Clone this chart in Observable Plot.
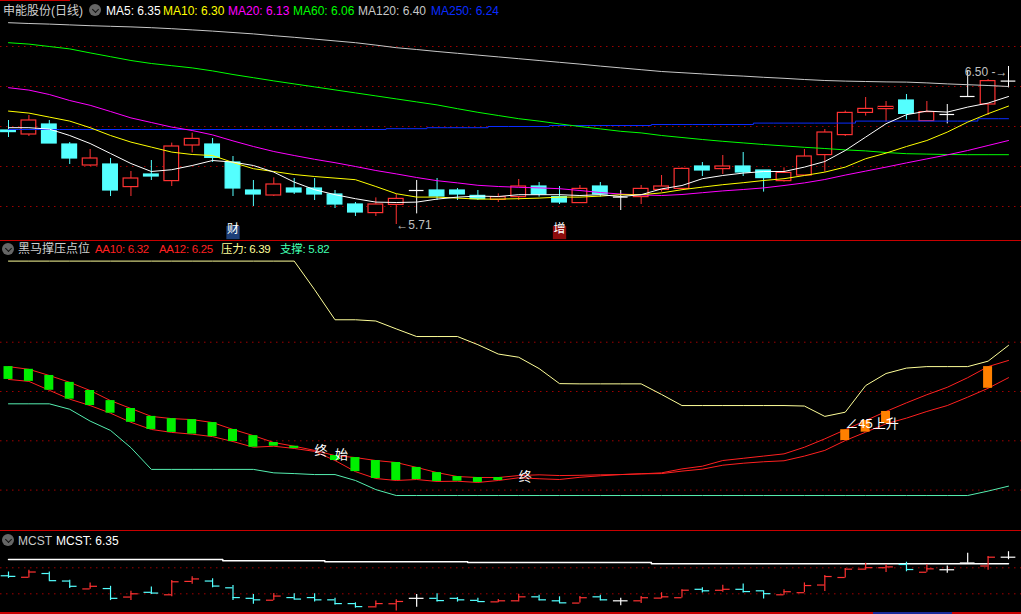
<!DOCTYPE html>
<html><head><meta charset="utf-8">
<script src="https://cdn.jsdelivr.net/npm/d3@7"></script>
<script src="https://cdn.jsdelivr.net/npm/@observablehq/plot@0.6"></script>
<style>
html,body{margin:0;padding:0;background:#000;}
#wrap{position:relative;width:1021px;height:614px;overflow:hidden;background:#000;font-family:"Liberation Sans","Noto Sans CJK SC",sans-serif;font-size:12px;}
.panel{position:absolute;left:0;}
.t{position:absolute;white-space:nowrap;font-size:12px;line-height:14px;}
.n{font-size:11.5px;letter-spacing:-0.3px;}
.icon{position:absolute;width:12px;height:12px;border-radius:50%;background:#666;}
.icon::after{content:"";position:absolute;left:3.5px;top:2.5px;width:4px;height:4px;border-right:1.6px solid #111;border-bottom:1.6px solid #111;transform:rotate(45deg);}
.sep{position:absolute;left:0;height:1px;background:#c80000;}
</style></head>
<body><div id="wrap">
<div id="p1" class="panel" style="top:0"></div>
<div id="p2" class="panel" style="top:240px"></div>
<div id="p3" class="panel" style="top:530px"></div>
<div class="sep" style="top:0;width:70px"></div>
<div class="sep" style="top:240px;width:1021px"></div>
<div class="sep" style="top:530px;width:1021px"></div>
<div class="sep" style="top:612px;width:1021px;height:2px"></div>
<div class="sep" style="top:612px;left:873px;width:79px;height:2px;background:#1a2a9a"></div>

<div class="t" style="top:4px;left:3px;color:#d0d0d0">申能股份(日线)</div>
<div class="icon" style="top:4px;left:89px"></div>
<div class="t" style="top:4px;left:106px;color:#ffffff">MA5: 6.35</div>
<div class="t" style="top:4px;left:163px;color:#ffff00">MA10: 6.30</div>
<div class="t" style="top:4px;left:228px;color:#ff00ff">MA20: 6.13</div>
<div class="t" style="top:4px;left:293px;color:#00ff00">MA60: 6.06</div>
<div class="t" style="top:4px;left:358px;color:#c8c8c8">MA120: 6.40</div>
<div class="t" style="top:4px;left:431px;color:#0a2cff">MA250: 6.24</div>

<div class="icon" style="top:243px;left:2px"></div>
<div class="t" style="top:242px;left:18px;color:#d0d0d0">黑马撑压点位</div>
<div class="t n" style="top:242px;left:95px;color:#ff2020">AA10: 6.32</div>
<div class="t n" style="top:242px;left:159px;color:#ff2020">AA12: 6.25</div>
<div class="t n" style="top:242px;left:221px;color:#ffff99">压力: 6.39</div>
<div class="t n" style="top:242px;left:280px;color:#40ffb0">支撑: 5.82</div>

<div class="icon" style="top:534px;left:2px"></div>
<div class="t" style="top:534px;left:18px;color:#c8c8c8">MCST</div>
<div class="t" style="top:534px;left:56px;color:#ffffff">MCST: 6.35</div>
</div>
<script>
// ---------- data ----------
const open  = [6.18,6.16,6.21,6.11,6.005,6.01,5.897,5.96,5.927,6.105,6.11,6.02,5.88,5.855,5.89,5.89,5.86,5.81,5.767,5.808,5.88,5.88,5.88,5.853,5.833,5.847,5.90,5.847,5.817,5.90,5.847,5.847,5.883,5.888,6.00,5.987,6.00,5.98,5.927,5.955,6.057,6.157,6.268,6.287,6.33,6.227,6.26,6.35,6.31,6.427];
const high  = [6.23,6.255,6.23,6.12,6.085,6.04,5.975,6.03,6.117,6.167,6.14,6.05,5.93,5.943,5.94,5.94,5.88,5.82,5.843,5.86,5.93,5.94,5.89,5.88,5.863,5.935,5.92,5.90,5.905,5.92,5.88,5.905,5.955,5.993,6.02,6.055,6.07,5.98,5.993,6.085,6.185,6.277,6.345,6.325,6.36,6.325,6.31,6.48,6.435,6.50];
const low   = [6.145,6.15,6.115,6.01,6.00,5.85,5.85,5.93,5.90,6.068,6.02,5.85,5.80,5.85,5.86,5.83,5.79,5.75,5.75,5.71,5.763,5.83,5.83,5.83,5.82,5.83,5.847,5.81,5.817,5.847,5.78,5.81,5.872,5.883,5.95,5.96,5.95,5.872,5.922,5.955,5.972,6.15,6.252,6.222,6.233,6.227,6.213,6.345,6.255,6.393];
const close = [6.172,6.23,6.115,6.04,6.04,5.88,5.94,5.95,6.10,6.138,6.043,5.89,5.86,5.91,5.87,5.86,5.81,5.77,5.81,5.838,5.88,5.85,5.86,5.837,5.847,5.90,5.86,5.82,5.888,5.86,5.847,5.888,5.90,5.988,5.98,6.00,5.97,5.942,5.968,6.05,6.17,6.268,6.288,6.298,6.263,6.272,6.26,6.35,6.427,6.427];

const ma5   = [6.194,6.194,6.187,6.155,6.115,6.065,6.015,5.975,5.984,6.005,6.03,6.022,6.005,5.972,5.922,5.884,5.859,5.839,5.822,5.82,5.822,5.837,5.847,5.852,5.85,5.859,5.859,5.859,5.855,5.859,5.85,5.859,5.888,5.905,5.939,5.955,5.967,5.975,5.975,5.997,6.025,6.08,6.147,6.214,6.259,6.277,6.272,6.297,6.317,6.35];
const ma10  = [6.277,6.267,6.247,6.227,6.194,6.155,6.122,6.097,6.072,6.06,6.055,6.02,5.989,5.975,5.96,5.95,5.942,5.934,5.90,5.864,5.847,5.847,5.842,5.837,5.837,5.839,5.842,5.847,5.847,5.852,5.859,5.859,5.868,5.884,5.897,5.909,5.919,5.93,5.939,5.955,5.972,5.997,6.039,6.067,6.10,6.13,6.172,6.222,6.264,6.302];
const ma20  = [6.394,6.382,6.36,6.33,6.306,6.275,6.243,6.22,6.197,6.18,6.158,6.128,6.10,6.075,6.055,6.036,6.019,6.00,5.98,5.963,5.945,5.929,5.918,5.906,5.90,5.896,5.893,5.889,5.88,5.87,5.862,5.858,5.855,5.86,5.869,5.878,5.885,5.893,5.905,5.918,5.935,5.957,5.977,5.997,6.018,6.038,6.058,6.08,6.105,6.13];
const ma60  = [6.619,6.612,6.60,6.588,6.568,6.549,6.53,6.515,6.504,6.493,6.478,6.46,6.444,6.428,6.413,6.398,6.383,6.368,6.353,6.338,6.323,6.308,6.289,6.271,6.255,6.239,6.227,6.213,6.20,6.188,6.176,6.168,6.155,6.145,6.135,6.126,6.118,6.11,6.103,6.096,6.09,6.083,6.078,6.07,6.064,6.062,6.06,6.059,6.059,6.059];
const ma120 = [6.719,6.715,6.712,6.708,6.704,6.701,6.698,6.694,6.689,6.683,6.677,6.67,6.663,6.654,6.646,6.637,6.628,6.619,6.607,6.594,6.585,6.575,6.566,6.557,6.548,6.539,6.53,6.521,6.512,6.502,6.493,6.484,6.475,6.469,6.463,6.457,6.452,6.446,6.441,6.435,6.43,6.427,6.425,6.423,6.422,6.418,6.413,6.409,6.405,6.40];
const ma250 = [6.185,6.185,6.185,6.185,6.185,6.185,6.185,6.185,6.185,6.185,6.185,6.185,6.185,6.185,6.185,6.185,6.185,6.185,6.185,6.189,6.189,6.194,6.194,6.194,6.20,6.20,6.20,6.205,6.205,6.205,6.205,6.205,6.21,6.21,6.21,6.21,6.21,6.217,6.217,6.217,6.217,6.217,6.227,6.227,6.227,6.227,6.227,6.227,6.239,6.239];

const aa10  = [6.249,6.241,6.205,6.169,6.143,6.112,6.075,6.046,6.034,6.027,6.017,5.997,5.974,5.978,5.969,5.957,5.920,5.875,5.847,5.839,5.843,5.835,5.836,5.831,5.839,5.850,5.846,5.843,5.852,5.858,5.863,5.866,5.870,5.886,5.897,5.920,5.929,5.938,5.947,5.974,6.008,6.045,6.082,6.119,6.154,6.187,6.217,6.256,6.301,6.326];
const aa12  = [6.301,6.290,6.265,6.237,6.204,6.163,6.131,6.099,6.090,6.086,6.074,6.046,6.021,5.993,5.978,5.961,5.940,5.932,5.920,5.912,5.892,5.871,5.855,5.851,5.851,5.859,5.862,5.859,5.860,5.862,5.863,5.866,5.867,5.877,5.885,5.901,5.909,5.915,5.919,5.938,5.961,6.001,6.035,6.069,6.092,6.119,6.143,6.177,6.213,6.256];
const pressure = [6.729,6.729,6.729,6.729,6.729,6.729,6.729,6.729,6.729,6.729,6.729,6.729,6.729,6.729,6.729,6.613,6.491,6.491,6.486,6.454,6.423,6.423,6.423,6.390,6.352,6.339,6.293,6.232,6.231,6.231,6.231,6.231,6.188,6.143,6.143,6.143,6.143,6.143,6.143,6.141,6.099,6.116,6.224,6.273,6.295,6.301,6.301,6.301,6.323,6.387];
const support  = [6.150,6.150,6.150,6.128,6.080,6.042,5.972,5.884,5.884,5.884,5.884,5.884,5.884,5.870,5.867,5.863,5.863,5.839,5.802,5.778,5.778,5.778,5.778,5.778,5.778,5.778,5.778,5.778,5.778,5.778,5.778,5.778,5.778,5.778,5.778,5.778,5.778,5.778,5.778,5.778,5.778,5.778,5.778,5.778,5.778,5.778,5.778,5.778,5.796,5.816];
const greenBars  = [0,1,2,3,4,5,6,7,8,9,10,11,12,13,14,16,17,18,19,20,21,22,23,24];
const orangeBars = [41,42,43,48];
const signalText = ["终","始","终","∠45上升"];
const signalIdx  = [15,16,25,41];
const signalVal  = [5.961,5.944,5.853,6.07];

const mcst = [6.395,6.395,6.395,6.395,6.395,6.395,6.395,6.395,6.395,6.395,6.395,6.381,6.381,6.381,6.381,6.381,6.368,6.368,6.368,6.368,6.368,6.368,6.368,6.355,6.355,6.355,6.355,6.355,6.355,6.355,6.355,6.355,6.34,6.34,6.34,6.34,6.34,6.34,6.34,6.34,6.34,6.34,6.34,6.34,6.34,6.34,6.34,6.34,6.34,6.34];

const eventIdx = [11, 27];
const eventText = ["财", "增"];
const eventFill = ["#1d3f78", "#8c0c0c"];

const topGrid = [6.6, 6.4, 6.2, 6.0, 5.8];
const midGrid = [6.4, 6.2, 6.0, 5.8];
const botGrid = [6.286, 5.94];

// ---------- helpers ----------
const idx = open.map((_, i) => i);
const RED = "#ff3232", CYAN = "#54ffff", WHITE = "#ffffff";
const col = i => close[i] > open[i] ? RED : close[i] < open[i] ? CYAN : WHITE;
const X = {type: "linear", domain: [-0.392, 49.637], range: [0, 1021], axis: null};
const font = "Liberation Sans, Noto Sans CJK SC, sans-serif";
const gridMark = g => Plot.ruleY(g, {stroke: "#a00000", strokeDasharray: "1.5,4.5", strokeWidth: 1});
const base = {width: 1021, margin: 0, x: X, color: {type: "identity"},
  style: {background: "transparent", overflow: "visible"}};
const maLine = (arr, color, curve = "linear") =>
  Plot.line(idx, {x: i => i, y: i => arr[i], stroke: color, strokeWidth: 1, curve});

// ---------- top panel ----------
const bodies = idx.filter(i => close[i] !== open[i]);
const dojis = idx.filter(i => close[i] === open[i]);
const p1 = Plot.plot({...base, height: 240,
  y: {domain: [5.63, 6.83], range: [240, 0], axis: null},
  marks: [
    gridMark(topGrid),
    Plot.ruleX(idx, {x: i => i, y1: i => low[i], y2: i => high[i], stroke: col, strokeWidth: 1}),
    Plot.rect(bodies, {x1: i => i - 0.36, x2: i => i + 0.36, y1: i => open[i], y2: i => close[i],
      fill: i => close[i] > open[i] ? "#000" : CYAN, stroke: col, strokeWidth: 1.2}),
    Plot.ruleY(dojis, {x1: i => i - 0.36, x2: i => i + 0.36, y: i => close[i], stroke: WHITE, strokeWidth: 1.2}),
    maLine(ma250, "#0a2cff", "step"),
    maLine(ma120, "#c8c8c8"),
    maLine(ma60, "#00ff00"),
    maLine(ma20, "#ff00ff"),
    maLine(ma10, "#ffff00"),
    maLine(ma5, "#ffffff"),
    Plot.text([19], {x: i => i, y: i => low[i], text: i => "←" + low[i].toFixed(2), textAnchor: "start",
      fill: "#c0c0c0", fontSize: 12, fontFamily: font, dy: 1}),
    Plot.text([49], {x: i => i, y: i => high[i], text: i => high[i].toFixed(2) + " -→", textAnchor: "end",
      fill: "#c0c0c0", fontSize: 12, fontFamily: font, dx: -1, dy: 6}),
    Plot.dot(eventIdx, {x: i => i, frameAnchor: "bottom", dy: -8, symbol: "square", r: 7.5,
      fill: (i, k) => eventFill[k], stroke: null}),
    Plot.text(eventIdx, {x: i => i, frameAnchor: "bottom", dy: -8, text: (i, k) => eventText[k],
      fill: "#ffffff", fontSize: 12, fontFamily: font})
  ]});
document.getElementById("p1").appendChild(p1);

// ---------- middle panel ----------
const p2 = Plot.plot({...base, height: 290,
  y: {domain: [5.6361, 6.8126], range: [290, 0], axis: null},
  marks: [
    gridMark(midGrid),
    maLine(pressure, "#ffff99"),
    maLine(support, "#55eeb0"),
    maLine(aa12, "#ff2020"),
    maLine(aa10, "#ff2020"),
    Plot.rect(greenBars, {x1: i => i - 0.22, x2: i => i + 0.22, y1: i => aa10[i], y2: i => aa12[i], fill: "#00f000"}),
    Plot.rect(orangeBars, {x1: i => i - 0.22, x2: i => i + 0.22, y1: i => aa10[i], y2: i => aa12[i], fill: "#ff8000"}),
    Plot.text(signalIdx, {x: i => i, y: (i, k) => signalVal[k], text: (i, k) => signalText[k],
      textAnchor: "start", fill: "#ffffff", fontSize: 13, fontFamily: font})
  ]});
document.getElementById("p2").appendChild(p2);

// ---------- bottom panel ----------
const p3 = Plot.plot({...base, height: 84,
  y: {domain: [5.665, 6.782], range: [84, 0], axis: null},
  marks: [
    gridMark(botGrid),
    Plot.line(idx, {x: i => i, y: i => mcst[i], stroke: "#ffffff", strokeWidth: 1.5, curve: "step"}),
    Plot.ruleX(idx, {x: i => i, y1: i => low[i], y2: i => high[i], stroke: col, strokeWidth: 1.2}),
    Plot.ruleY(idx, {x1: i => i - 0.36, x2: i => i, y: i => open[i], stroke: col, strokeWidth: 1.2}),
    Plot.ruleY(idx, {x1: i => i, x2: i => i + 0.36, y: i => close[i], stroke: col, strokeWidth: 1.2})
  ]});
document.getElementById("p3").appendChild(p3);
</script>
</body></html>
